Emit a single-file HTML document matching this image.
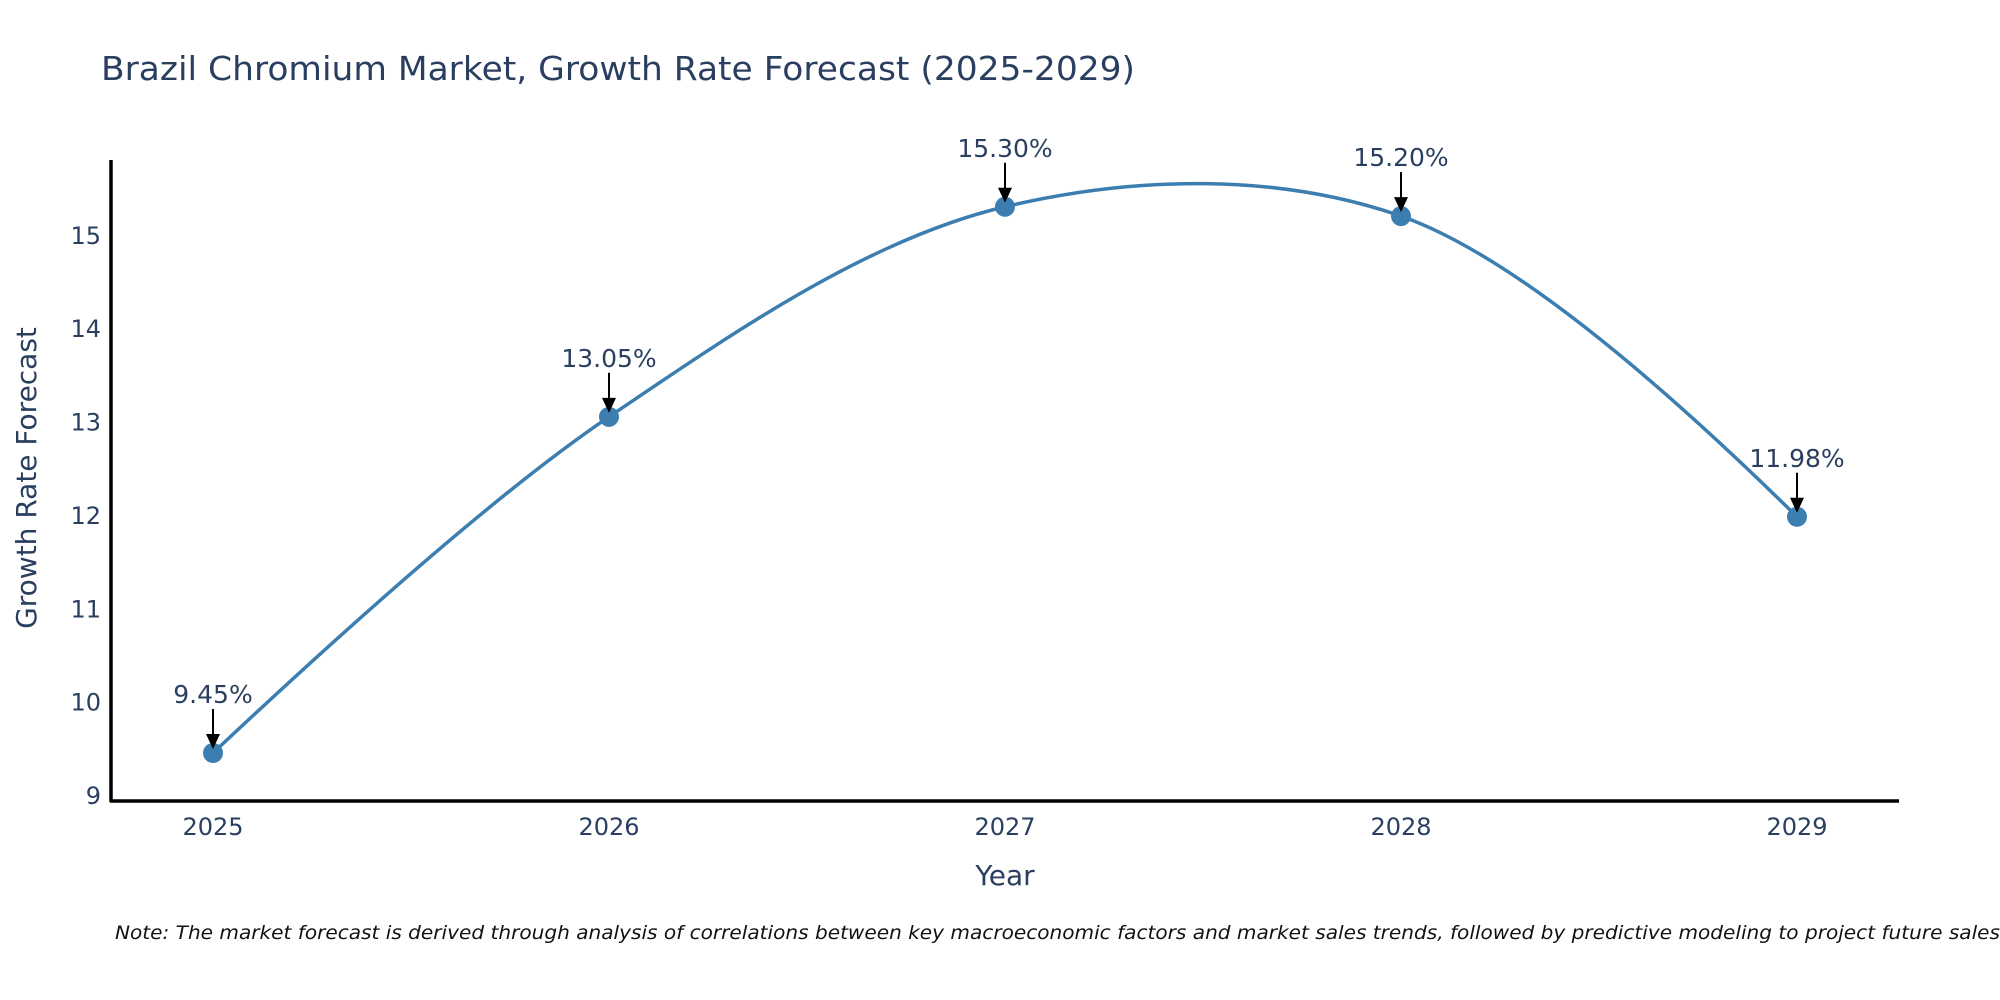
<!DOCTYPE html>
<html><head><meta charset="utf-8"><style>
html,body{margin:0;padding:0;background:#fff;}
svg{display:block;font-family:"DejaVu Sans","Liberation Sans",sans-serif;}
</style></head><body>
<svg id="chart" width="2000" height="1000" viewBox="0 0 2000 1000">
<rect width="2000" height="1000" fill="#fff"/>
<text x="101" y="80" font-size="33" fill="#2a3f5f" textLength="1034" lengthAdjust="spacingAndGlyphs">Brazil Chromium Market, Growth Rate Forecast (2025-2029)</text>
<g id="yticks"></g>
<g id="xticks"></g>
<line x1="111" y1="160" x2="111" y2="802" stroke="#000" stroke-width="3.5"/>
<line x1="110" y1="801" x2="1899" y2="801" stroke="#000" stroke-width="3.5"/>
<path id="line" fill="none" stroke="#3d7eb1" stroke-width="3.5"/>
<g id="marks"></g>
<g id="annots"></g>
<text x="1005" y="885" font-size="28" fill="#2a3f5f" text-anchor="middle">Year</text>
<text x="0" y="0" font-size="28" fill="#2a3f5f" text-anchor="middle" transform="translate(36,478) rotate(-90)">Growth Rate Forecast</text>
<text x="115" y="939" font-size="19" font-style="italic" fill="#111" textLength="1885" lengthAdjust="spacingAndGlyphs">Note: The market forecast is derived through analysis of correlations between key macroeconomic factors and market sales trends, followed by predictive modeling to project future sales</text>
</svg>
<script>
const years = [2025, 2026, 2027, 2028, 2029];
const growthRates = [9.45, 13.05, 15.30, 15.20, 11.98];
const valueLabels = ["9.45%", "13.05%", "15.30%", "15.20%", "11.98%"];
const yTickValues = [9, 10, 11, 12, 13, 14, 15];

const NS = "http://www.w3.org/2000/svg";
const yMin = 8.936, yMax = 15.79;
const plotTop = 161, plotBottom = 801;
function xScale(yr) { return 213 + (yr - years[0]) * (1797 - 213) / (years[years.length - 1] - years[0]); }
function yScale(v) { return plotBottom - (v - yMin) / (yMax - yMin) * (plotBottom - plotTop); }
function mk(tag, attrs, parent) {
  const e = document.createElementNS(NS, tag);
  for (const k in attrs) e.setAttribute(k, attrs[k]);
  parent.appendChild(e);
  return e;
}

const yt = document.getElementById('yticks');
yTickValues.forEach(v => {
  const t = mk('text', {x: 101, y: yScale(v) + 9, 'font-size': 24, fill: '#2a3f5f', 'text-anchor': 'end'}, yt);
  
  
  t.textContent = v;
});
const xt = document.getElementById('xticks');
years.forEach(y => {
  const t = mk('text', {x: xScale(y), y: 835, 'font-size': 24, fill: '#2a3f5f', 'text-anchor': 'middle'}, xt);
  
  
  t.textContent = y;
});

const pts = years.map((y, i) => [xScale(y), yScale(growthRates[i])]);
function tangent(p, c, n, s) {
  const d1x = p[0]-c[0], d1y = p[1]-c[1], d2x = n[0]-c[0], d2y = n[1]-c[1];
  const d1a = Math.pow(d1x*d1x+d1y*d1y, 0.25), d2a = Math.pow(d2x*d2x+d2y*d2y, 0.25);
  const nx = (d2a*d2a*d1x - d1a*d1a*d2x)*s, ny = (d2a*d2a*d1y - d1a*d1a*d2y)*s;
  const den1 = 3*d2a*(d1a+d2a), den2 = 3*d1a*(d1a+d2a);
  return [[c[0]+nx/den1, c[1]+ny/den1], [c[0]-nx/den2, c[1]-ny/den2]];
}
const tans = [];
for (let i = 1; i < pts.length - 1; i++) tans.push(tangent(pts[i-1], pts[i], pts[i+1], 1));
let d = 'M' + pts[0] + 'Q' + tans[0][0] + ' ' + pts[1];
for (let i = 2; i < pts.length - 1; i++) d += 'C' + tans[i-2][1] + ' ' + tans[i-1][0] + ' ' + pts[i];
d += 'Q' + tans[pts.length-3][1] + ' ' + pts[pts.length-1];
document.getElementById('line').setAttribute('d', d);

const mg = document.getElementById('marks');
const ag = document.getElementById('annots');
pts.forEach((p, i) => {
  const c = mk('circle', {cx: p[0], cy: p[1], r: 10, fill: '#3d7eb1'}, mg);
  
  
  const l = mk('line', {x1: p[0], y1: p[1] - 44, x2: p[0], y2: p[1] - 14, stroke: '#000', 'stroke-width': 2}, ag);
  
  
  const h = mk('path', {d: `M${p[0]-7},${p[1]-19} L${p[0]+7},${p[1]-19} L${p[0]},${p[1]-4} Z`, fill: '#000'}, ag);
  
  
  const t = mk('text', {x: p[0], y: p[1] - 50, 'font-size': 25, fill: '#2a3f5f', 'text-anchor': 'middle'}, ag);
  
  
  t.textContent = valueLabels[i];
});
</script>
</body></html>
